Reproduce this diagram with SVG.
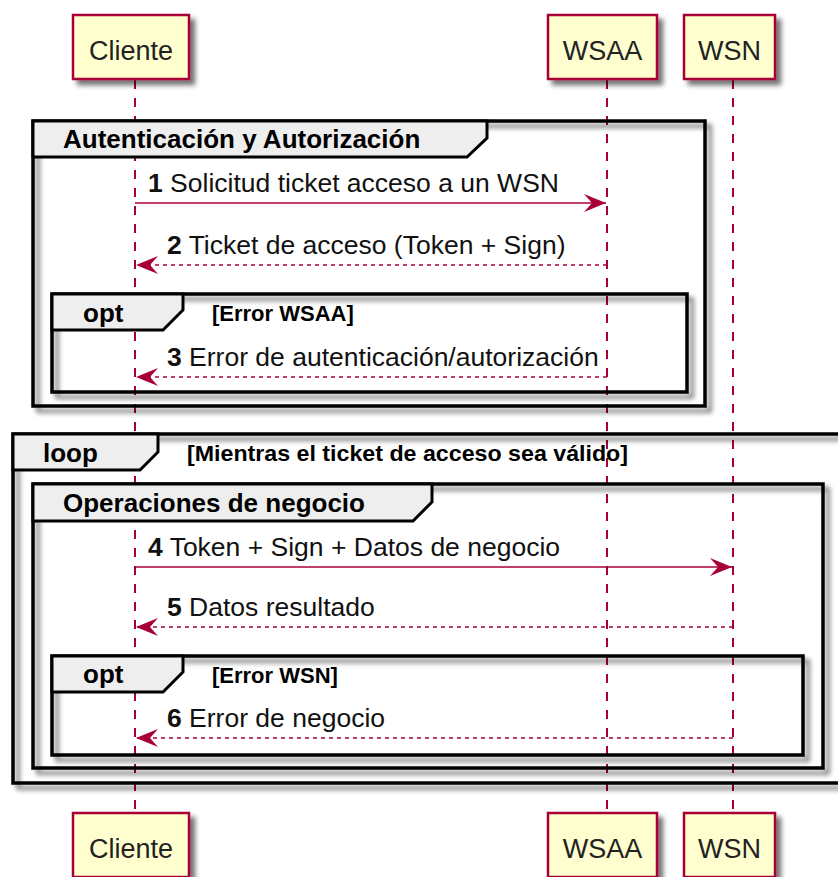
<svg xmlns="http://www.w3.org/2000/svg" width="838" height="877" viewBox="0 0 838 877">
<defs>
<filter id="sh" x="-10%" y="-10%" width="130%" height="130%">
<feGaussianBlur in="SourceAlpha" stdDeviation="2.5" result="b"/>
<feOffset in="b" dx="5" dy="5" result="o"/>
<feComponentTransfer in="o" result="c"><feFuncA type="linear" slope="0.55"/></feComponentTransfer>
<feMerge><feMergeNode in="c"/><feMergeNode in="SourceGraphic"/></feMerge>
</filter>
<marker id="ah" viewBox="0 0 22 18" refX="22" refY="9" markerWidth="22" markerHeight="18" markerUnits="userSpaceOnUse" orient="auto">
<path d="M0,0 L22,9 L0,18 L8,9 Z" fill="#A80036"/>
</marker>
</defs>
<style>
.pbox{fill:#FEFECE;stroke:#A80036;stroke-width:2.5;filter:url(#sh)}
.ptxt{font-family:"Liberation Sans",Arial,sans-serif;font-size:27px;fill:#222;text-anchor:middle}
.life{stroke:#A80036;stroke-width:2;stroke-dasharray:9,9;fill:none}
.frame{fill:none;stroke:#000;stroke-width:3.5;filter:url(#sh)}
.tab{fill:#EEEEEE;stroke:#000;stroke-width:3}
.gtitle{font-family:"Liberation Sans",Arial,sans-serif;font-size:26px;font-weight:bold;fill:#000}
.cond{font-family:"Liberation Sans",Arial,sans-serif;font-size:22px;font-weight:bold;fill:#000}
.msg{stroke:#A80036;stroke-width:1.6;fill:none}
.ret{stroke:#A80036;stroke-width:1.6;fill:none;stroke-dasharray:4,4}
.mtxt{font-family:"Liberation Sans",Arial,sans-serif;font-size:26.5px;fill:#111}
.num{font-weight:bold}
</style>
<rect width="838" height="877" fill="#FFFFFF"/>

<g id="lifelines">
<line class="life" x1="135" y1="80" x2="135" y2="813"/>
<line class="life" x1="607" y1="80" x2="607" y2="813"/>
<line class="life" x1="733" y1="80" x2="733" y2="813"/>
</g>

<g id="p-cliente">
<rect class="pbox" x="73" y="15" width="116" height="64"/>
<text class="ptxt" x="131" y="60">Cliente</text>
<rect class="pbox" x="73" y="813" width="116" height="64"/>
<text class="ptxt" x="131" y="858">Cliente</text>
</g>
<g id="p-wsaa">
<rect class="pbox" x="548" y="15" width="109" height="64"/>
<text class="ptxt" x="602.5" y="60">WSAA</text>
<rect class="pbox" x="548" y="813" width="109" height="64"/>
<text class="ptxt" x="602.5" y="858">WSAA</text>
</g>
<g id="p-wsn">
<rect class="pbox" x="684" y="15" width="91" height="64"/>
<text class="ptxt" x="729.5" y="60">WSN</text>
<rect class="pbox" x="684" y="813" width="91" height="64"/>
<text class="ptxt" x="729.5" y="858">WSN</text>
</g>

<g id="g-auth">
<rect class="frame" x="33" y="121" width="672" height="285"/>
<polygon class="tab" points="33,121 487,121 487,138 467,157 33,157"/>
<text class="gtitle" x="63" y="148">Autenticación y Autorización</text>
</g>
<g id="g-opt1">
<rect class="frame" x="52" y="294" width="635" height="98"/>
<polygon class="tab" points="52,294 183,294 183,310 163,330 52,330"/>
<text class="gtitle" x="83" y="322">opt</text>
<text class="cond" x="212" y="321">[Error WSAA]</text>
</g>
<g id="g-loop">
<rect class="frame" x="13" y="434" width="845" height="349"/>
<polygon class="tab" points="13,434 158,434 158,452 140,470 13,470"/>
<text class="gtitle" x="43" y="462">loop</text>
<text class="cond" x="187" y="461" textLength="441" lengthAdjust="spacingAndGlyphs">[Mientras el ticket de acceso sea válido]</text>
</g>
<g id="g-ops">
<rect class="frame" x="33" y="484" width="790" height="284"/>
<polygon class="tab" points="33,484 432,484 432,502 413,521 33,521"/>
<text class="gtitle" x="63" y="512">Operaciones de negocio</text>
</g>
<g id="g-opt2">
<rect class="frame" x="52" y="656" width="751" height="99"/>
<polygon class="tab" points="52,656 183,656 183,672 163,692 52,692"/>
<text class="gtitle" x="83" y="683">opt</text>
<text class="cond" x="212" y="683">[Error WSN]</text>
</g>

<g id="connectors">
<line class="msg" x1="135" y1="203" x2="606" y2="203" marker-end="url(#ah)"/>
<text class="mtxt" x="148" y="192"><tspan class="num">1</tspan> Solicitud ticket acceso a un WSN</text>
<line class="ret" x1="607" y1="265" x2="136" y2="265" marker-end="url(#ah)"/>
<text class="mtxt" x="167" y="254"><tspan class="num">2</tspan> Ticket de acceso (Token + Sign)</text>
<line class="ret" x1="607" y1="377" x2="136" y2="377" marker-end="url(#ah)"/>
<text class="mtxt" x="167" y="366"><tspan class="num">3</tspan> Error de autenticación/autorización</text>
<line class="msg" x1="135" y1="567" x2="732" y2="567" marker-end="url(#ah)"/>
<text class="mtxt" x="148" y="556"><tspan class="num">4</tspan> Token + Sign + Datos de negocio</text>
<line class="ret" x1="733" y1="627" x2="136" y2="627" marker-end="url(#ah)"/>
<text class="mtxt" x="167" y="616"><tspan class="num">5</tspan> Datos resultado</text>
<line class="ret" x1="733" y1="738" x2="136" y2="738" marker-end="url(#ah)"/>
<text class="mtxt" x="167" y="727"><tspan class="num">6</tspan> Error de negocio</text>
</g>
</svg>
